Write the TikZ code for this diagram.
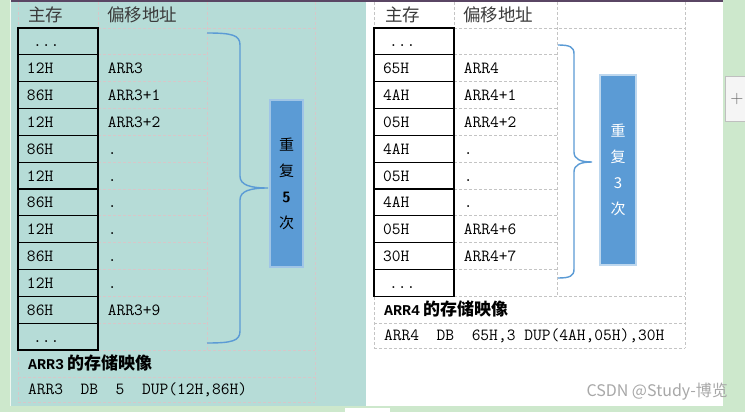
\documentclass[tikz,border=0pt]{standalone}
\usepackage{fontspec}
\usepackage{tikz}
\usetikzlibrary{positioning}
\newfontfamily\cjk{Noto Sans CJK SC}
\newfontfamily\boldmono{Liberation Mono}
\definecolor{pagegreen}{HTML}{CDE8CC}
\definecolor{sheetteal}{HTML}{B6DCD7}
\definecolor{topbar}{HTML}{5A4664}
\definecolor{bracecol}{HTML}{5B9BD5}
\definecolor{boxfill}{HTML}{5B9BD5}
\definecolor{boxedge}{HTML}{BDD7EE}
\definecolor{gridpink}{HTML}{D8C6C8}
\definecolor{gridgray}{HTML}{C4C4C4}
\definecolor{headtext}{HTML}{3A3A3A}
\definecolor{markgray}{HTML}{A8A8A8}
\newcommand{\mdots}{\hspace*{6pt}...}

\begin{document}
\begin{tikzpicture}[x=1pt,y=-1pt]
    \tikzstyle{cell} = [rectangle, draw=black, line width=1.2pt, minimum height=26.83pt, text width=62pt, text height=11pt, text depth=0pt, inner xsep=9pt, inner ysep=0pt, align=left, font=\ttfamily\fontsize{17}{17}\selectfont]
    \tikzstyle{offs} = [inner xsep=9pt, inner ysep=0pt, text height=11pt, text depth=0pt, font=\ttfamily\fontsize{17}{17}\selectfont]
    \tikzstyle{head} = [anchor=west, inner xsep=10pt, text=headtext, font=\cjk\fontsize{17.5}{17.5}\selectfont]
    \tikzstyle{title} = [anchor=west, inner xsep=10pt, font=\fontsize{17}{17}\selectfont]
    \tikzstyle{repbox} = [rectangle, fill=boxfill, draw=boxedge, line width=1.5pt, inner sep=0pt, align=center, font=\cjk\fontsize{15}{26}\selectfont]
    \tikzstyle{brace} = [draw=bracecol, line width=1.4pt]
    \tikzstyle{gridl} = [line width=0.8pt, dash pattern=on 3pt off 2pt]

    \useasboundingbox (0,0) rectangle (745,412);

    % page and sheet background
    \fill[pagegreen] (0,0) rectangle (745,412);
    \fill[white!70!pagegreen] (9.5,0) rectangle (11,406);
    \fill[sheetteal] (11,0) rectangle (366,406);
    \fill[white] (366,0) rectangle (722.5,406);
    \fill[white] (345,407.5) rectangle (390,412);

    % grid lines, ARR3 sheet
    \draw[gridl, gridpink] (18,2) -- (18,402) (98,2) -- (98,350) (207,2) -- (207,350) (315,2) -- (315,402);
    \foreach \y in {28,350,377,402} \draw[gridl, gridpink] (18,\y) -- (315,\y);
    \foreach \k in {1,...,11} \draw[gridl, gridpink] (98,{28+\k*26.83}) -- (207,{28+\k*26.83});

    % grid lines, ARR4 sheet
    \draw[gridl, gridgray] (374,2) -- (374,348) (454,2) -- (454,296) (557,2) -- (557,296) (685,2) -- (685,348);
    \foreach \y in {28,296,323,348} \draw[gridl, gridgray] (374,\y) -- (685,\y);
    \foreach \k in {1,...,9} \draw[gridl, gridgray] (454,{28+\k*26.83}) -- (557,{28+\k*26.83});

    \fill[topbar] (11,0) rectangle (723,2.5);

    % headers
    \node[head] (h3a) at (18,15) {主存};
    \node[head, inner xsep=9pt] (h3b) at (98,15) {偏移地址};
    \node[head, inner xsep=11pt] (h4a) at (374,15) {主存};
    \node[head, inner xsep=9pt] (h4b) at (454,15) {偏移地址};

    % memory cells
    \foreach \val/\off [count=\i from 0] in {{\mdots}/{}, 12H/ARR3, 86H/ARR3+1, 12H/ARR3+2, 86H/., 12H/., 86H/., 12H/., 86H/., 12H/., 86H/ARR3+9, {\mdots}/{}} {
        \node[cell] (m3-\i) at (58,{28+(\i+0.5)*26.83}) {\val};
        \node[offs, right=0pt of m3-\i] (o3-\i) {\off};
    }
    \foreach \val/\off [count=\i from 0] in {{\mdots}/{}, 65H/ARR4, 4AH/ARR4+1, 05H/ARR4+2, 4AH/., 05H/., 4AH/., 05H/ARR4+6, 30H/ARR4+7, {\mdots}/{}} {
        \node[cell] (m4-\i) at (414,{28+(\i+0.5)*26.83}) {\val};
        \node[offs, right=0pt of m4-\i] (o4-\i) {\off};
    }

    % repeat boxes
    \node[repbox, minimum width=33pt, minimum height=167pt, draw=boxedge!70!bracecol, text=black] (rep3) at (286.5,183.5) {重\\复\\{\sffamily\bfseries 5}\\次};
    \node[repbox, minimum width=36pt, minimum height=190pt, text=white] (rep4) at (618,170) {重\\复\\3\\次};

    % braces
    \coordinate (b3top) at (207,33);
    \coordinate (b3bot) at (207,343);
    \coordinate (tip3) at (268,188);
    \draw[brace] (b3top) .. controls (232,33) and (240,35) .. (240,45) -- (240,176) .. controls (240,185) and (250,188) .. (tip3) .. controls (250,188) and (240,191) .. (240,200) -- (240,331) .. controls (240,341) and (232,343) .. (b3bot);
    \coordinate (b4top) at (558,45);
    \coordinate (b4bot) at (558,278);
    \coordinate (tip4) at (592,162);
    \draw[brace] (b4top) .. controls (570,45) and (574,47) .. (574,54) -- (574,152) .. controls (574,159) and (580,162) .. (tip4) .. controls (580,162) and (574,165) .. (574,172) -- (574,269) .. controls (574,276) and (570,278) .. (b4bot);

    % storage image rows
    \node[title] (t3) at (18,363.5) {{\boldmono\bfseries\fontsize{15}{15}\selectfont ARR3}\,{\cjk\bfseries 的存储映像}};
    \node[title, font=\ttfamily\fontsize{17}{17}\selectfont] (d3) at (18,389.5) {ARR3\ \ DB\ \ 5\ \ DUP(12H,86H)};
    \node[title] (t4) at (374,309.5) {{\boldmono\bfseries\fontsize{15}{15}\selectfont ARR4}\,{\cjk\bfseries 的存储映像}};
    \node[title, font=\ttfamily\fontsize{17}{17}\selectfont] (d4) at (374,335.5) {ARR4\ \ DB\ \ 65H,3\ DUP(4AH,05H),30H};

    % window bits
    \node[rectangle, draw=black!25, fill=black!4, line width=1pt, minimum width=24pt, minimum height=44pt, text=black!60, font=\sffamily\fontsize{18}{18}\selectfont] (plus) at (737,99) {+};
    \node[anchor=east, inner sep=0pt, text=markgray, font=\cjk\fontsize{16}{16}\selectfont] (mark) at (728,392) {CSDN @Study-博览};
\end{tikzpicture}
\end{document}
